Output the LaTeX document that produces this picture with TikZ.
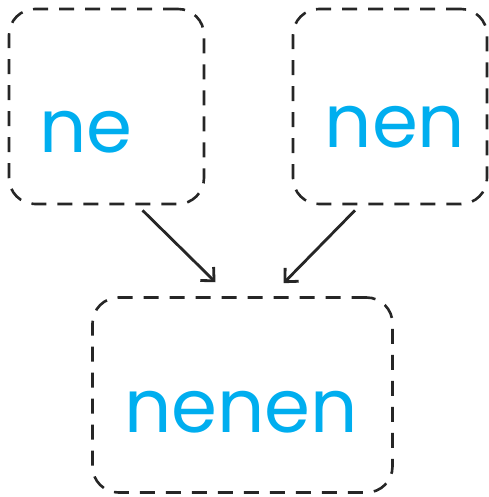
\documentclass[tikz,border=0pt]{standalone}
\usepackage{fontspec}
\setmainfont{Poppins}
\usetikzlibrary{arrows.meta}
\definecolor{wordblue}{HTML}{00AEEF}
\begin{document}
\begin{tikzpicture}[x=1pt,y=-1pt,box/.style={draw=black!85,dashed,dash pattern=on 15pt off 11pt,line width=2.6pt,rounded corners=26pt,inner sep=0pt}, word/.style={text=wordblue,font=\fontsize{74}{74}\selectfont,anchor=base,inner sep=0pt}, post/.style={-{Straight Barb[length=10pt,width=19pt,line width=2.8pt]},line width=2.8pt,draw=black!85}]

\useasboundingbox (0,0) rectangle (488,497);

\node[box,minimum width=195pt,minimum height=195pt] at (106.5,106.5) (left) {};
\node[box,minimum width=194pt,minimum height=195pt] at (390,106.5) (right) {};
\node[box,minimum width=300pt,minimum height=195pt] at (242.5,395) (bottom) {};

\node[word] at (86,153) (w_ne) {ne};
\node[word] at (395,147) (w_nen) {nen};
\node[word] at (241,432) (w_nenen) {nenen};

%\draw[red] (left.south) -- (bottom.north);

\draw[post] ([shift={(36,5)}]left.south) -- ([shift={(-27,-14)}]bottom.north);
\draw[post] ([shift={(-35,5)}]right.south) -- ([shift={(41,-13)}]bottom.north);

\end{tikzpicture}
\end{document}
